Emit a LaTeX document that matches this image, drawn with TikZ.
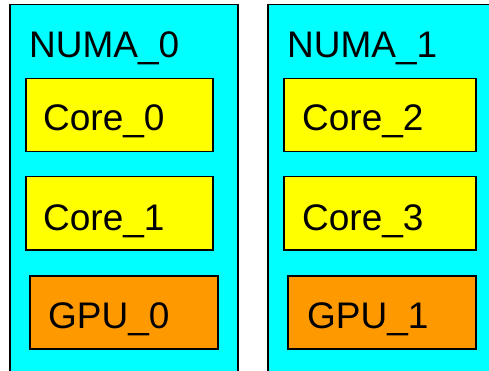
\documentclass[tikz,border=0pt]{standalone}
\usepackage{fontspec}
\setmainfont{Liberation Sans}
\definecolor{numacyan}{RGB}{0,255,255}
\definecolor{coreyellow}{RGB}{255,255,0}
\definecolor{gpuorange}{RGB}{255,153,0}
\tikzset{
  unit/.style={draw, line width=1.5pt, anchor=north west, inner sep=0pt},
  lbl/.style={anchor=base west, inner sep=0pt, font=\fontsize{37}{44}\selectfont}
}
\begin{document}
\begin{tikzpicture}[x=1pt,y=-1pt]
  \useasboundingbox (0,0) rectangle (489,371);
  \clip (0,0) rectangle (489,371);
  \node[unit, fill=numacyan, minimum width=228pt, minimum height=400pt] (numa0) at (9,4) {};
  \node[unit, fill=numacyan, minimum width=260pt, minimum height=400pt] (numa1) at (267,4) {};
  \node[unit, fill=coreyellow, minimum width=187pt, minimum height=73pt] (core0) at (25,78) {};
  \node[unit, fill=coreyellow, minimum width=187pt, minimum height=73pt] (core1) at (25,176) {};
  \node[unit, fill=gpuorange, minimum width=188pt, minimum height=73pt] (gpu0) at (29,275) {};
  \node[unit, fill=coreyellow, minimum width=192pt, minimum height=73pt] (core2) at (283,78) {};
  \node[unit, fill=coreyellow, minimum width=192pt, minimum height=73pt] (core3) at (283,176) {};
  \node[unit, fill=gpuorange, minimum width=188pt, minimum height=73pt] (gpu1) at (287,275) {};
  \node[lbl] (numa0txt) at (29,58) {NUMA\_0};
  \node[lbl] (numa1txt) at (287,58) {NUMA\_1};
  \node[lbl] (core0txt) at (43,131) {Core\_0};
  \node[lbl] (core1txt) at (43,230) {Core\_1};
  \node[lbl] (gpu0txt) at (48,328) {GPU\_0};
  \node[lbl] (core2txt) at (302,131) {Core\_2};
  \node[lbl] (core3txt) at (302,230) {Core\_3};
  \node[lbl] (gpu1txt) at (307,328) {GPU\_1};
\end{tikzpicture}
\end{document}
